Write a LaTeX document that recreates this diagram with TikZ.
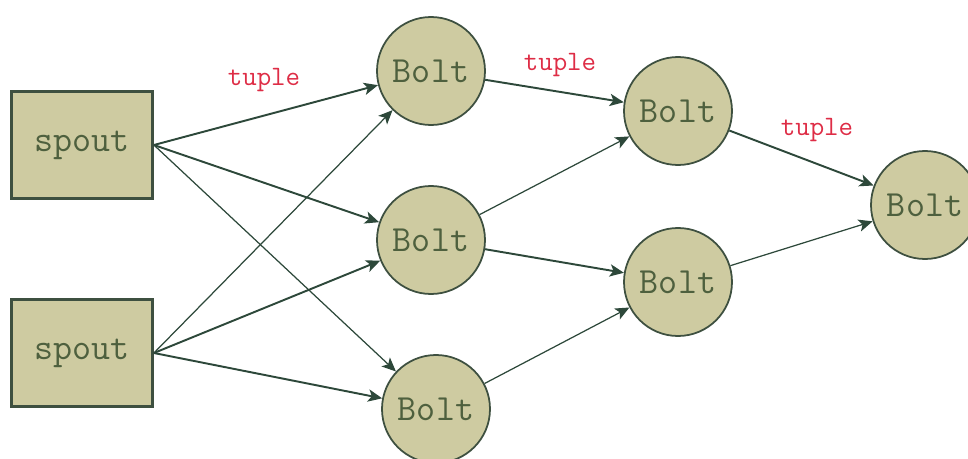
\documentclass[tikz,border=0pt]{standalone}
\usepackage{xcolor}
\usepackage{tikz}
\usetikzlibrary{shapes.geometric, arrows, arrows.meta}

\definecolor{boltfill}{RGB}{206,203,161}
\definecolor{edgegreen}{RGB}{62,80,64}
\definecolor{linegreen}{RGB}{45,72,58}
\definecolor{textgreen}{RGB}{78,96,62}
\definecolor{tuplered}{RGB}{222,45,70}

\begin{document}
\begin{tikzpicture}
        % Define block styles with khaki background
        \tikzstyle{spoutbox} = [rectangle, draw=edgegreen, fill=boltfill, line width=1.6pt,
                             minimum width=2.82cm, minimum height=2.14cm, text=textgreen,
                             font=\ttfamily\fontsize{21}{24}\selectfont]
        \tikzstyle{bolt} = [circle, draw=edgegreen, fill=boltfill, line width=1pt,
                             minimum size=2.16cm, inner sep=0pt, text=textgreen,
                             font=\ttfamily\fontsize{21}{24}\selectfont]
        \tikzstyle{arrow} = [line width=1.1pt,->,>={Stealth[length=8pt,width=7pt,inset=2pt]}, draw=linegreen]
        \tikzstyle{thinarrow} = [line width=0.7pt,->,>={Stealth[length=8pt,width=7pt,inset=2pt]}, draw=linegreen]
        \tikzstyle{tuplelabel} = [text=tuplered, font=\ttfamily\fontsize{16}{18}\selectfont]

        \useasboundingbox (0,0) rectangle (19.36,-9.18);

        % Spouts on the left
        \node (spoutA) [spoutbox] at (1.64,-2.90) {spout};
        \node (spoutB) [spoutbox] at (1.64,-7.06) {spout};

        % Bolts in three columns
        \node (boltA) [bolt] at (8.62,-1.42) {Bolt};
        \node (boltB) [bolt] at (8.62,-4.80) {Bolt};
        \node (boltC) [bolt] at (8.72,-8.18) {Bolt};
        \node (boltD) [bolt] at (13.56,-2.22) {Bolt};
        \node (boltE) [bolt] at (13.56,-5.64) {Bolt};
        \node (boltF) [bolt] at (18.50,-4.10) {Bolt};

        % Labels
        \node (tupleA) [tuplelabel] at (5.28,-1.60) {tuple};
        \node (tupleB) [tuplelabel] at (11.20,-1.30) {tuple};
        \node (tupleC) [tuplelabel] at (16.34,-2.60) {tuple};

        % Arrows
        \draw [arrow] (spoutA.east) -- (boltA);
        \draw [arrow] (spoutA.east) -- (boltB);
        \draw [thinarrow] (spoutA.east) -- (boltC);
        \draw [thinarrow] (spoutB.east) -- (boltA);
        \draw [arrow] (spoutB.east) -- (boltB);
        \draw [arrow] (spoutB.east) -- (boltC);
        \draw [arrow] (boltA) -- (boltD);
        \draw [thinarrow] (boltB) -- (boltD);
        \draw [arrow] (boltB) -- (boltE);
        \draw [thinarrow] (boltC) -- (boltE);
        \draw [arrow] (boltD) -- (boltF);
        \draw [thinarrow] (boltE) -- (boltF);
    \end{tikzpicture}
\end{document}
